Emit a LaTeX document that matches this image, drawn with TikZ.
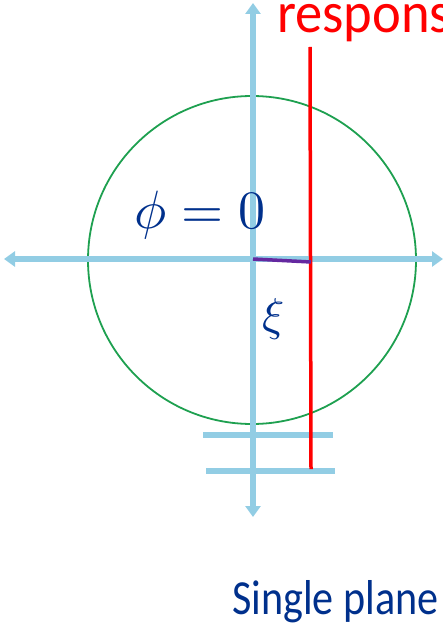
\documentclass[tikz,border=0pt]{standalone}
\usepackage{fontspec}
\usepackage{unicode-math}
\setmainfont{Carlito}
\setmathfont{Latin Modern Math}
\usetikzlibrary{arrows.meta}
\definecolor{axisblue}{RGB}{146,205,228}
\definecolor{textblue}{RGB}{0,48,140}
\definecolor{circgreen}{RGB}{30,160,80}
\definecolor{purp}{RGB}{100,40,160}
\tikzset{
  axis/.style={draw=axisblue, line width=6pt, -{Triangle[width=15pt,length=11pt]}},
  tick/.style={draw=axisblue, line width=6pt},
  lbl/.style={inner sep=0pt, anchor=base west},
}
\begin{document}
\begin{tikzpicture}[x=1pt,y=-1pt]
\useasboundingbox (0,0) rectangle (443,631);
\clip (0,0) rectangle (443,631);
% coordinates
\coordinate (O) at (253,259);
\coordinate (top) at (253,3);
\coordinate (bot) at (253,517);
\coordinate (left) at (4,259);
\coordinate (right) at (443,259);
\coordinate (t1a) at (203,435);
\coordinate (t1b) at (333,435);
\coordinate (t2a) at (206,471);
\coordinate (t2b) at (335,471);
\coordinate (rtop) at (310,47);
\coordinate (rbot) at (311,469);
\coordinate (xi) at (311,262);
% circle
\draw[circgreen, line width=1.8pt] (252,260) circle[radius=164];
% axes
\draw[axis] (O) -- (top);
\draw[axis] (O) -- (bot);
\draw[axis] (O) -- (left);
\draw[axis] (O) -- (right);
\draw[tick] (t1a) -- (t1b);
\draw[tick] (t2a) -- (t2b);
% red response line
\draw[red, line width=3.5pt] (rtop) -- (rbot);
% purple xi segment
\draw[purp, line width=3.5pt] (O) -- (xi);
% labels
\node[lbl, text=red, font=\fontsize{58}{60}\selectfont, xscale=0.94] (resp) at (277,33) {response};
\node[lbl, text=textblue, font=\fontsize{54}{60}\selectfont] (phi) at (134,228) {$\phi = 0$};
\node[lbl, text=textblue, font=\fontsize{46}{50}\selectfont] (xil) at (262,330) {$\xi$};
\node[lbl, text=textblue, font=\fontsize{49}{50}\selectfont, xscale=0.86] (sp) at (232,614) {Single plane};
\end{tikzpicture}
\end{document}
